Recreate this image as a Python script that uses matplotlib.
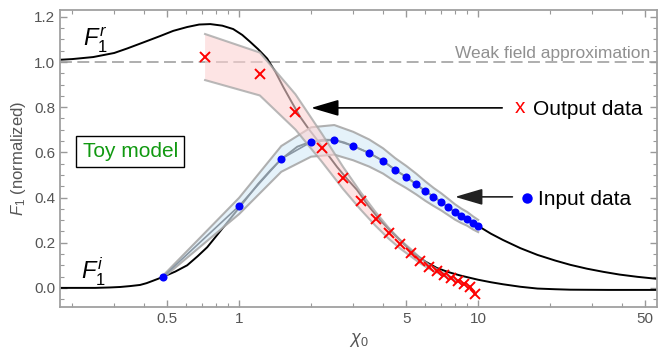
import matplotlib
matplotlib.use('Agg')
import matplotlib.pyplot as plt
from matplotlib.ticker import FixedLocator, NullFormatter

plt.rcParams['font.family'] = ['Liberation Sans', 'DejaVu Sans']
plt.rcParams['mathtext.fontset'] = 'custom'
plt.rcParams['mathtext.rm'] = 'Liberation Sans'
plt.rcParams['mathtext.it'] = 'Liberation Sans:italic'

# model curves
fr_x = [0.178, 0.2, 0.245, 0.3, 0.34, 0.4, 0.467, 0.53, 0.606, 0.68, 0.757, 0.85, 0.944, 1.03, 1.11,
        1.2, 1.31, 1.42, 1.53, 1.66, 1.80, 1.95, 2.12, 2.33, 2.57, 2.83, 3.11, 3.48, 3.89, 4.3, 4.7,
        5.34, 6.0, 6.72, 7.5, 8.4, 9.2, 10.0, 11.3, 12.7, 15.0, 17.7, 21.0, 24.3, 35.0, 56.0]
fr_y = [1.010, 1.013, 1.022, 1.040, 1.060, 1.088, 1.115, 1.138, 1.155, 1.166, 1.168, 1.161, 1.146, 1.120,
        1.090, 1.057, 1.015, 0.955, 0.889, 0.822, 0.757, 0.705, 0.655, 0.595, 0.535, 0.482, 0.434, 0.362,
        0.300, 0.252, 0.212, 0.155, 0.117, 0.088, 0.070, 0.055, 0.045, 0.036, 0.025, 0.016, 0.005, -0.003,
        -0.006, -0.008, -0.009, -0.009]

fi_x = [0.178, 0.25, 0.29, 0.318, 0.35, 0.385, 0.41, 0.437, 0.46, 0.48, 0.54, 0.606, 0.67, 0.735, 0.8,
        0.9, 1.0, 1.1, 1.2, 1.35, 1.5, 1.75, 2.0, 2.25, 2.5, 2.75, 3.0, 3.5, 4.0, 4.5, 5.0, 6.0, 7.0,
        8.0, 9.0, 10.0, 11.3, 12.7, 15.0, 17.7, 21.0, 24.3, 28.5, 33.4, 39.0, 46.3, 56.0]
fi_y = [0.0, 0.0, 0.002, 0.004, 0.008, 0.013, 0.021, 0.032, 0.041, 0.049, 0.072, 0.100, 0.140, 0.180, 0.228,
        0.295, 0.355, 0.410, 0.460, 0.520, 0.570, 0.625, 0.648, 0.656, 0.655, 0.644, 0.628, 0.597, 0.562,
        0.522, 0.491, 0.429, 0.381, 0.336, 0.305, 0.274, 0.240, 0.212, 0.176, 0.146, 0.121, 0.102, 0.085,
        0.071, 0.059, 0.049, 0.040]

# input data with band
in_x = [0.48, 1.0, 1.5, 2.0, 2.5, 3.0, 3.5, 4.0, 4.5, 5.0, 5.5, 6.0, 6.5, 7.0, 7.5, 8.0, 8.5, 9.0, 9.5, 10.0]
in_y = [0.049, 0.363, 0.571, 0.646, 0.655, 0.628, 0.597, 0.562, 0.522, 0.491, 0.460, 0.429, 0.403, 0.381,
        0.358, 0.336, 0.319, 0.305, 0.288, 0.274]
in_lo = [0.044, 0.327, 0.514, 0.581, 0.590, 0.565, 0.537, 0.506, 0.470, 0.442, 0.414, 0.386, 0.363, 0.343,
         0.322, 0.302, 0.287, 0.275, 0.259, 0.247]
in_hi = [0.054, 0.399, 0.628, 0.711, 0.721, 0.691, 0.657, 0.618, 0.574, 0.540, 0.506, 0.472, 0.443, 0.419,
         0.394, 0.370, 0.351, 0.336, 0.317, 0.301]

# output data with band
out_x = [0.72, 1.22, 1.72, 2.22, 2.72, 3.22, 3.72, 4.22, 4.72, 5.22, 5.72, 6.22, 6.72, 7.22, 7.72, 8.22,
         8.72, 9.22, 9.72]
out_y = [1.022, 0.947, 0.779, 0.620, 0.487, 0.385, 0.305, 0.242, 0.193, 0.156, 0.121, 0.094, 0.075, 0.058,
         0.043, 0.031, 0.018, 0.006, -0.027]
out_lo = [0.920, 0.852, 0.701, 0.558, 0.438, 0.347, 0.275, 0.218, 0.174, 0.140, 0.109, 0.085, 0.068, 0.052,
          0.039, 0.028, 0.016, 0.005, -0.030]
out_hi = [1.124, 1.042, 0.857, 0.682, 0.536, 0.424, 0.336, 0.266, 0.212, 0.172, 0.133, 0.103, 0.083, 0.064,
          0.047, 0.034, 0.020, 0.007, -0.024]

gray = '#555555'
fig = plt.figure(figsize=(6.63, 3.6), dpi=100)
ax = fig.add_axes([0.0905, 0.147, 0.9005, 0.825])
ax.set_xscale('log')

ax.axhline(1.0, color='#a8a8a8', lw=1.3, ls=(0, (6.6, 3.0)), zorder=1)
ax.plot(fr_x, fr_y, color='black', lw=1.4, zorder=2)
ax.plot(fi_x, fi_y, color='black', lw=1.4, zorder=2)

ax.fill_between(in_x, in_lo, in_hi, facecolor='#d8ebf8', alpha=0.65, edgecolor='none', zorder=3)
ax.plot(in_x, in_lo, color='#a8a8a8', lw=1.5, alpha=0.9, zorder=3)
ax.plot(in_x, in_hi, color='#a8a8a8', lw=1.5, alpha=0.9, zorder=3)
ax.plot(in_x, in_y, color='#8a97a3', lw=1.2, zorder=3)

ax.fill_between(out_x, out_lo, out_hi, facecolor='#fcd3d3', alpha=0.6, edgecolor='none', zorder=4)
ax.plot(out_x, out_lo, color='#a8a8a8', lw=1.5, alpha=0.8, zorder=4)
ax.plot(out_x, out_hi, color='#a8a8a8', lw=1.5, alpha=0.8, zorder=4)

ax.plot(in_x, in_y, 'o', color='#0000ff', ms=5.8, mew=0, zorder=6)
ax.plot(out_x, out_y, 'x', color='#ff0000', ms=6.5, mew=1.4, zorder=6)

ax.set_xlim(0.178, 56)
ax.set_ylim(-0.085, 1.23)

ax.xaxis.set_major_locator(FixedLocator([0.5, 1, 5, 10, 50]))
ax.set_xticklabels(['0.5', '1', '5', '10', '50'])
ax.xaxis.set_minor_locator(FixedLocator([0.2, 0.3, 0.4, 0.6, 0.7, 0.8, 0.9, 2, 3, 4, 6, 7, 8, 9, 20, 30, 40]))
ax.xaxis.set_minor_formatter(NullFormatter())
ax.set_yticks([0.0, 0.2, 0.4, 0.6, 0.8, 1.0, 1.2])
ax.set_yticklabels(['0.0', '0.2', '0.4', '0.6', '0.8', '1.0', '1.2'])
ax.yaxis.set_minor_locator(FixedLocator([-0.05, 0.05, 0.1, 0.15, 0.25, 0.3, 0.35, 0.45, 0.5, 0.55, 0.65, 0.7,
                                         0.75, 0.85, 0.9, 0.95, 1.05, 1.1, 1.15]))
ax.tick_params(which='both', direction='in', top=True, right=True, color='#999999',
               labelcolor=gray, labelsize=11)
ax.tick_params(which='major', length=5, width=1)
ax.tick_params(which='minor', length=3, width=0.8)
for s in ax.spines.values():
    s.set_color('#a0a0a0')
    s.set_linewidth(1.3)

ax.set_xlabel(r'$\chi_0$', color=gray, fontsize=13, labelpad=4)
ax.set_ylabel(r'$F_1$ (normalized)', color=gray, fontsize=12, labelpad=4)

ax.text(52.5, 1.018, 'Weak field approximation', color='#909090', fontsize=12.5, ha='right', va='baseline')
ax.text(0.25, 1.097, r'$F_1^r$', fontsize=17, ha='center', va='center')
ax.text(0.245, 0.071, r'$F_1^i$', fontsize=17, ha='center', va='center')
ax.text(0.35, 0.604, 'Toy model', color='#119911', fontsize=15, ha='center', va='center',
        bbox=dict(boxstyle='square,pad=0.3', facecolor='white', edgecolor='black', lw=1))

ax.annotate('', xy=(2.0, 0.797), xytext=(12.6, 0.797),
            arrowprops=dict(arrowstyle='-|>,head_length=0.85,head_width=0.25', mutation_scale=20,
                            color='black', lw=1.2, shrinkA=0, shrinkB=0))
ax.text(15.0, 0.797, 'x', color='#ff0000', fontsize=15, ha='center', va='center')
ax.text(17.0, 0.765, 'Output data', color='black', fontsize=15, ha='left', va='baseline')

ax.annotate('', xy=(8.0, 0.403), xytext=(13.9, 0.403),
            arrowprops=dict(arrowstyle='-|>,head_length=0.85,head_width=0.25', mutation_scale=20,
                            color='#222222', lw=1.2, shrinkA=0, shrinkB=0))
ax.plot([16.0], [0.398], 'o', color='#0000ff', ms=7.5, mew=0, clip_on=False)
ax.text(17.8, 0.367, 'Input data', color='black', fontsize=15, ha='left', va='baseline')

fig.savefig('out.png', dpi=100)
